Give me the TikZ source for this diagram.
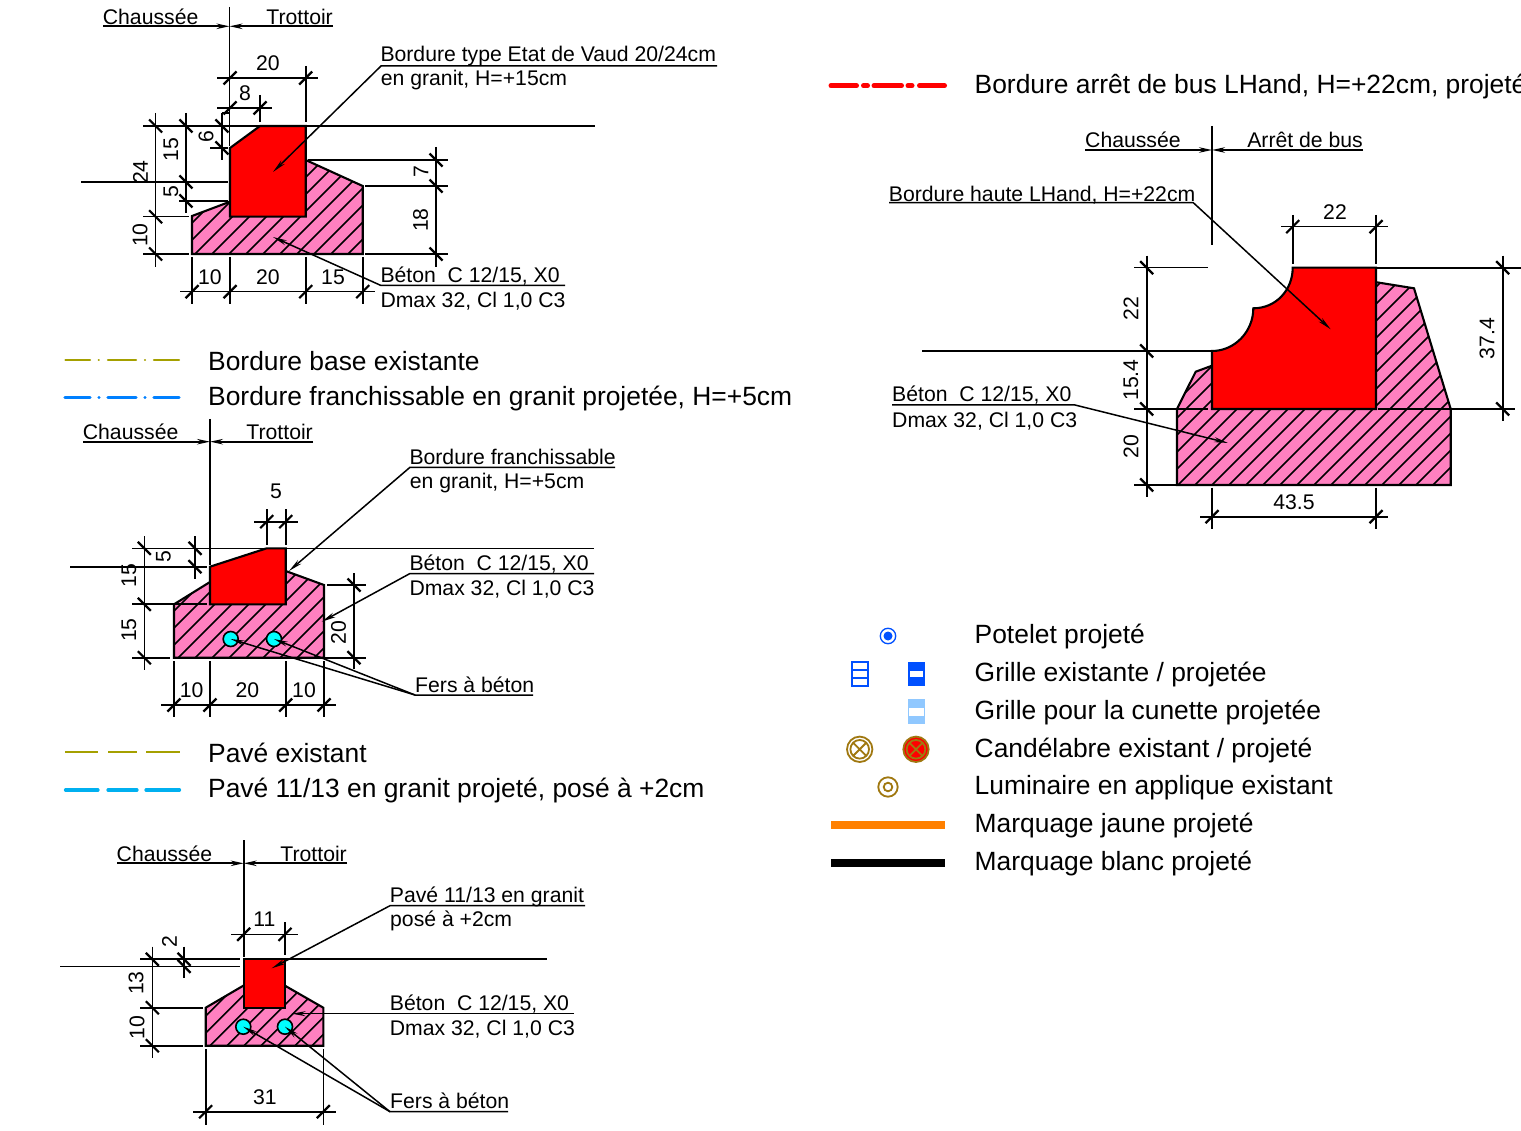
\documentclass[tikz,border=0pt]{standalone}
\usepackage{fontspec}
\setmainfont{Liberation Sans}
\usetikzlibrary{arrows.meta}
\definecolor{pinkc}{HTML}{FF80C0}
\definecolor{olivec}{HTML}{A5A000}
\definecolor{dashblue}{HTML}{0080FF}
\definecolor{pavec}{HTML}{00B0F0}
\definecolor{symblue}{HTML}{0050FF}
\definecolor{lightb}{HTML}{90C8FF}
\definecolor{lampc}{HTML}{A07810}
\definecolor{orangec}{HTML}{FF8000}
\definecolor{cyanc}{HTML}{00FFFF}
\tikzset{
  thinl/.style={line width=1.6pt,black},
  thickl/.style={line width=2.1pt,black},
  hl/.style={line width=1.5pt,black},
  tickl/.style={line width=2.2pt,black},
  lead/.style={line width=1.5pt,black,-{Stealth[length=14pt,width=5pt]}},
  arrowul/.style={line width=1.7pt,black,-{Stealth[length=13pt,width=5.5pt]}},
  outl/.style={line width=2.1pt,black,line join=miter},
  small/.style={inner sep=0pt,font=\fontsize{21.2}{25}\selectfont},
  big/.style={inner sep=0pt,anchor=west,font=\fontsize{26.4}{31}\selectfont},
  rot/.style={small,rotate=90},
  lamp/.style={line width=1.8pt,lampc},
  iron/.style={fill=cyanc,draw=black,line width=1.6pt},
}
% slanted ticks: /  on horizontal dims, \ on vertical dims
\newcommand\dimh[4]{\draw[thinl] (#2,#1)--(#3,#1);
  \foreach \t in {#4}{\draw[tickl] (\t-6.5,#1+6.5)--(\t+6.5,#1-6.5);}}
\newcommand\dimv[4]{\draw[thinl] (#1,#2)--(#1,#3);
  \foreach \t in {#4}{\draw[tickl] (#1-6.5,\t-6.5)--(#1+6.5,\t+6.5);}}
\newcommand\hatched[2]{%
  \fill[pinkc] #1;
  \begin{scope}\clip #1;
    \foreach \c in {#2}{\draw[hl] (\c,0)--(\c-1200,1200);}
  \end{scope}
  \draw[outl] #1;}
\begin{document}
\begin{tikzpicture}[x=1pt,y=-1pt]
\useasboundingbox (0,0) rectangle (1521,1131);
\fill[white] (0,0) rectangle (1521,1131);

%% ---------- Diagram 1
\hatched{(192,216)--(230,201.7)--(305.7,160)--(362.7,186)--(362.7,254)--(192,254)--cycle}{381,398,...,619}
\draw[outl,fill=red] (230,148)--(260,126)--(305.7,126)--(305.7,216.7)--(230,216.7)--cycle;
\draw[thinl] (229.5,7)--(229.5,146);
\draw[thickl] (143,126)--(595,126);
\draw[thinl] (81,182)--(228,182) (179,201)--(228,201) (210,148)--(228,148) (222,113)--(230,113);
\draw[thinl] (143,216.7)--(189,216.7) (143,254)--(189,254) (365,254)--(448,254) (308,160)--(448,160) (365,186)--(448,186);
\draw[thinl] (260,95)--(260,122) (305.7,66)--(305.7,122);
\foreach \x in {192,230,305.7,362.7}{\draw[thinl] (\x,257)--(\x,304);}
\dimv{155.6}{113}{267}{126,216.7,254}
\dimv{186}{113}{213}{126,182,201}
\dimv{222}{113}{160}{126,148}
\dimv{436}{147}{267}{160,186,254}
\dimh{78}{217}{318}{230,305.7}
\dimh{108}{217}{272}{230,260}
\dimh{291.7}{180}{375}{192,230,305.7,362.7}
\node[small] (a20t) at (268,63) {20};
\node[small] (a8) at (245,93) {8};
\node[rot] (a24) at (140.5,172) {24};
\node[rot] (a10v) at (140,235) {10};
\node[rot] (a15v) at (171,150) {15};
\node[rot] (a5v) at (171,192) {5};
\node[rot] (a6v) at (206,137) {6};
\node[rot] (a7v) at (421,172) {7};
\node[rot] (a18v) at (420.5,220) {18};
\node[small] (a10b) at (210,277) {10};
\node[small] (a20b) at (268,277) {20};
\node[small] (a15b) at (333,277) {15};
\node[small,anchor=west] (aCh) at (102.7,17) {Chaussée};
\node[small,anchor=east] (aTr) at (333,17) {Trottoir};
\coordinate (aC) at (229.5,26.3);
\draw[arrowul] (103,26.3)--(aC);
\draw[arrowul] (333,26.3)--(aC);
\node[small,anchor=west] (aB1) at (380.3,56.5) {Bordure type Etat de Vaud 20/24cm};
\node[small,anchor=west] (aB2) at (380.7,80.5) {en granit, H=+15cm};
\coordinate (aBs) at (381,66); \coordinate (aBe) at (717,66); \coordinate (aBt) at (273,172);
\draw[lead] (aBe)--(aBs)--(aBt);
\node[small,anchor=west] (aC1) at (380.3,276.5) {Béton\ \ C 12/15, X0};
\node[small,anchor=west] (aC2) at (380.3,301.5) {Dmax 32, Cl 1,0 C3};
\coordinate (aCs) at (381,285.5); \coordinate (aCe) at (565,285.5); \coordinate (aCt) at (273,237);
\draw[lead] (aCe)--(aCs)--(aCt);

%% ---------- Legend left
\draw[line width=2.2pt,olivec,line cap=round] (65.5,360)--(90,360) (98.7,360)--(98.8,360) (108,360)--(136,360) (145,360)--(145.1,360) (154,360)--(179,360);
\draw[line width=3.2pt,dashblue,line cap=round] (65,397.7)--(90,397.7) (99,397.7)--(99.1,397.7) (108,397.7)--(136,397.7) (145,397.7)--(145.1,397.7) (154,397.7)--(179,397.7);
\node[big] (lg1) at (208,361) {Bordure base existante};
\node[big] (lg2) at (208,399) {Bordure franchissable en granit projetée, H=+5cm};
\draw[line width=2.2pt,olivec] (65,752)--(98,752) (108,752)--(137,752) (146,752)--(180,752);
\draw[line width=3.2pt,pavec,line cap=round] (65.5,790)--(98,790) (108,790)--(137,790) (146,790)--(179.5,790);
\node[big] (lg3) at (208,753) {Pavé existant};
\node[big] (lg4) at (208,791) {Pavé 11/13 en granit projeté, posé à +2cm};

%% ---------- Diagram 2
\hatched{(174,604.3)--(210,582)--(285.7,571)--(324,585)--(324,657.7)--(174,657.7)--cycle}{751,768,...,989}
\draw[outl,fill=red] (210,566.7)--(266.7,548.3)--(285.7,548.3)--(285.7,604.3)--(210,604.3)--cycle;
\draw[thinl] (210,419)--(210,565);
\draw[thinl] (132,548.3)--(594,548.3) (70,566.7)--(207,566.7);
\draw[thickl] (132,604.3)--(207,604.3) (132,657.7)--(170,657.7) (327,585)--(366,585) (325,657.7)--(366,657.7);
\draw[thinl] (266.7,509)--(266.7,545) (285.7,509)--(285.7,545);
\foreach \x in {174,210,285.7,324}{\draw[thinl] (\x,661)--(\x,717);}
\dimv{144.3}{536}{670}{548.3,604.3,657.7}
\dimv{195}{536}{579}{548.3,566.7}
\dimv{354}{573}{669}{585,657.7}
\dimh{521.7}{254}{298}{266.7,285.7}
\dimh{705}{161}{336}{174,210,285.7,324}
\node[rot] (b15a) at (129,575.7) {15};
\node[rot] (b15b) at (129,630) {15};
\node[rot] (b5) at (163.5,556.7) {5};
\node[rot] (b20) at (338.5,632.7) {20};
\node[small] (b5t) at (276,491) {5};
\node[small] (b10a) at (191.7,690) {10};
\node[small] (b20b) at (247.5,690) {20};
\node[small] (b10b) at (304,690) {10};
\node[small,anchor=west] (bCh) at (82.7,432) {Chaussée};
\node[small,anchor=east] (bTr) at (313,432) {Trottoir};
\coordinate (bC) at (210,441.7);
\draw[arrowul] (83,441.7)--(bC);
\draw[arrowul] (313,441.7)--(bC);
\node[iron,circle,minimum size=15pt,inner sep=0pt] (bi1) at (230.7,639) {};
\node[iron,circle,minimum size=15pt,inner sep=0pt] (bi2) at (274,639) {};
\node[small,anchor=west] (bB1) at (409.3,457) {Bordure franchissable};
\node[small,anchor=west] (bB2) at (409.7,483) {en granit, H=+5cm};
\coordinate (bBs) at (410,467.3); \coordinate (bBe) at (615,467.3); \coordinate (bBt) at (289,571);
\draw[lead] (bBe)--(bBs)--(bBt);
\node[small,anchor=west] (bC1) at (409.3,564.5) {Béton\ \ C 12/15, X0};
\node[small,anchor=west] (bC2) at (409.3,589.5) {Dmax 32, Cl 1,0 C3};
\coordinate (bCs) at (410,573.5); \coordinate (bCe) at (594,573.5); \coordinate (bCt) at (321.7,621.7);
\draw[lead] (bCe)--(bCs)--(bCt);
\node[small,anchor=west] (bF) at (415,685) {Fers à béton};
\coordinate (bFs) at (415,695); \coordinate (bFe) at (533,695);
\draw[lead] (bFe)--(bFs)--(bi1.center);
\draw[lead] (bFs)--(bi2.center);

%% ---------- Diagram 3
\hatched{(205.7,1007.7)--(243.3,985.7)--(285,985.7)--(323.3,1007.7)--(323.3,1045.7)--(205.7,1045.7)--cycle}{1187.7,1204.7,...,1374.7}
\draw[outl,fill=red] (243.7,959.3) rectangle (285,1007.7);
\draw[thinl] (243.7,840)--(243.7,957);
\draw[thickl] (140,959.3)--(240,959.3) (285,959.3)--(547,959.3);
\draw[thinl] (60,966.3)--(240,966.3) (140,1007.7)--(203,1007.7) (140,1045.7)--(203,1045.7);
\draw[thinl] (285,922)--(285,955) (205.7,1049)--(205.7,1125) (323.3,1049)--(323.3,1125);
\dimv{152.3}{946.7}{1058}{959.3,1007.7,1045.7}
\dimv{184}{946.7}{978}{959.3,966.3}
\dimh{934.3}{231}{298}{243.7,285}
\dimh{1111.7}{193}{336}{205.7,323.3}
\node[rot] (c13) at (136,983) {13};
\node[rot] (c10) at (137,1027.7) {10};
\node[rot] (c2) at (169.5,941.7) {2};
\node[small] (c11) at (264.5,919.3) {11};
\node[small] (c31) at (265,1096.7) {31};
\node[small,anchor=west] (cCh) at (116.5,854) {Chaussée};
\node[small,anchor=east] (cTr) at (347,854) {Trottoir};
\coordinate (cC) at (243.7,863.3);
\draw[arrowul] (117,863.3)--(cC);
\draw[arrowul] (347,863.3)--(cC);
\node[iron,circle,minimum size=15pt,inner sep=0pt] (ci1) at (243.3,1026.7) {};
\node[iron,circle,minimum size=15pt,inner sep=0pt] (ci2) at (285,1026.7) {};
\node[small,anchor=west] (cB1) at (389.7,896.5) {Pavé 11/13 en granit};
\node[small,anchor=west] (cB2) at (390,921) {posé à +2cm};
\coordinate (cBs) at (390,905.7); \coordinate (cBe) at (585,905.7); \coordinate (cBt) at (271.7,968.3);
\draw[lead] (cBe)--(cBs)--(cBt);
\node[small,anchor=west] (cC1) at (389.7,1004.5) {Béton\ \ C 12/15, X0};
\node[small,anchor=west] (cC2) at (389.7,1029.5) {Dmax 32, Cl 1,0 C3};
\coordinate (cCs) at (390,1013.7); \coordinate (cCe) at (574,1013.7); \coordinate (cCt) at (291.7,1013.7);
\draw[lead] (cCe)--(cCs)--(cCt);
\node[small,anchor=west] (cF) at (390,1101) {Fers à béton};
\coordinate (cFs) at (390,1111.7); \coordinate (cFe) at (508,1111.7);
\draw[lead] (cFe)--(cFs)--(ci1.center);
\draw[lead] (cFs)--(ci2.center);

%% ---------- Diagram 4 (bus stop)
\draw[line width=5pt,red,line cap=round] (831,85.7)--(856.5,85.7) (863.5,85.7)--(867.5,85.7) (874,85.7)--(901.5,85.7) (908,85.7)--(912,85.7) (919.5,85.7)--(944.5,85.7);
\node[big] (dLeg) at (974.5,87) {Bordure arrêt de bus LHand, H=+22cm, projeté};
\hatched{(1177,409)--(1195.7,371.7)--(1212,365.7)--(1376.7,282.3)--(1414,288.3)--(1450.7,409)--(1450.7,485)--(1177,485)--cycle}{1527,1544,...,1939}
\draw[outl,fill=red] (1212,351) .. controls (1234.8,351) and (1253.3,331.5) .. (1253.3,308.3)
  .. controls (1276,308.3) and (1292.7,290) .. (1292.7,267.7)
  -- (1376,267.7)--(1376,409)--(1212,409)--cycle;
\draw[thinl] (1212,126)--(1212,245);
\draw[thinl] (1134,267.7)--(1208,267.7) (922,351)--(1212,351);
\draw[thickl] (1376,267.7)--(1521,267.7) (1134,485)--(1177,485);
\draw[thinl] (1134,409)--(1208,409) (1378,409)--(1515,409);
\draw[thinl] (1292.7,215)--(1292.7,264) (1376,215)--(1376,264) (1212,487.7)--(1212,529) (1376,487.7)--(1376,529);
\dimv{1146.7}{255.7}{497}{267.7,351,409,485}
\dimv{1502.7}{255.7}{421}{267.7,409}
\dimh{226.7}{1281}{1388}{1292.7,1376}
\dimh{516.7}{1200}{1388}{1212,1376}
\node[rot] (d22) at (1131,308.3) {22};
\node[rot] (d154) at (1131,380) {15.4};
\node[rot] (d20) at (1131,446.7) {20};
\node[rot] (d374) at (1487,338.5) {37.4};
\node[small] (d22t) at (1335,211.7) {22};
\node[small] (d435) at (1294,502.3) {43.5};
\node[small,anchor=west] (dCh) at (1085,140) {Chaussée};
\node[small,anchor=east] (dAr) at (1363,140) {Arrêt de bus};
\coordinate (dC) at (1212,150);
\draw[arrowul] (1085,150)--(dC);
\draw[arrowul] (1363,150)--(dC);
\node[small,anchor=west] (dB) at (888.7,195) {Bordure haute LHand, H=+22cm};
\coordinate (dBs) at (1193.3,202.7); \coordinate (dBe) at (889,202.7); \coordinate (dBt) at (1330.7,329.3);
\draw[lead] (dBe)--(dBs)--(dBt);
\node[small,anchor=west] (dC1) at (892,395.5) {Béton\ \ C 12/15, X0};
\node[small,anchor=west] (dC2) at (892,421.5) {Dmax 32, Cl 1,0 C3};
\coordinate (dCs) at (1075,405); \coordinate (dCe) at (892,405); \coordinate (dCt) at (1228,443);
\draw[lead] (dCe)--(dCs)--(dCt);

%% ---------- Legend right
\draw[line width=1.3pt,symblue] (888,636) circle (7.7);
\fill[symblue] (888,636) circle (4.5);
\node[big] (r1) at (974.5,637) {Potelet projeté};
\draw[line width=1.8pt,symblue] (851.7,662.3) rectangle (868.3,685.7) (851.7,670)--(868.3,670) (851.7,677.7)--(868.3,677.7);
\fill[symblue] (907.7,662) rectangle (925,686);
\fill[white] (910,671) rectangle (922.7,676.7);
\node[big] (r2) at (974.5,675) {Grille existante / projetée};
\fill[lightb] (907.7,699.3) rectangle (925,724);
\fill[white] (909,707.7) rectangle (924,715.7);
\node[big] (r3) at (974.5,713) {Grille pour la cunette projetée};
\draw[lamp] (859.7,749.3) circle (12.7) (859.7,749.3) circle (9.3)
  (853.1,742.7)--(866.3,755.9) (853.1,755.9)--(866.3,742.7);
\fill[red] (916,749.3) circle (12.7);
\draw[lamp] (916,749.3) circle (12.7) (916,749.3) circle (9.3)
  (909.4,742.7)--(922.6,755.9) (909.4,755.9)--(922.6,742.7);
\node[big] (r4) at (974.5,751) {Candélabre existant / projeté};
\draw[lamp] (888,787) circle (9.7) (888,787) circle (4.3);
\node[big] (r5) at (974.5,788) {Luminaire en applique existant};
\fill[orangec] (831,821) rectangle (945,829.3);
\node[big] (r6) at (974.5,826) {Marquage jaune projeté};
\fill[black] (831,858.7) rectangle (945,867.3);
\node[big] (r7) at (974.5,864) {Marquage blanc projeté};
\end{tikzpicture}
\end{document}
